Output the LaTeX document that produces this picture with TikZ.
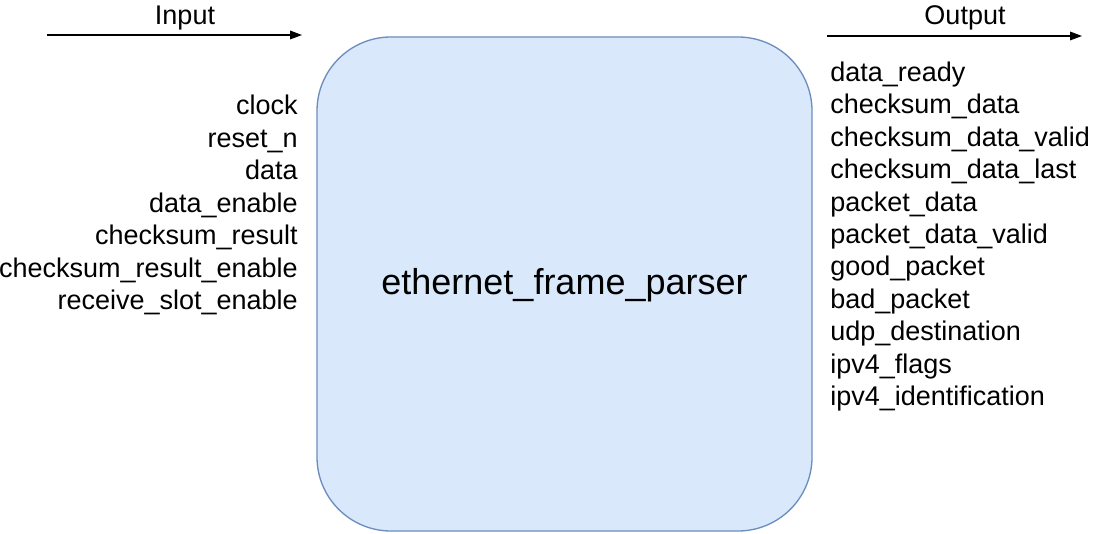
\documentclass[tikz,border=0pt]{standalone}
\usepackage{fontspec}
\setmainfont{Liberation Sans}
\usetikzlibrary{arrows.meta}
\definecolor{boxfill}{HTML}{DAE8FC}
\definecolor{boxdraw}{HTML}{6C8EBF}
\begin{document}
\begin{tikzpicture}[x=0.75pt,y=-0.75pt,
  lbl/.style={inner sep=0pt,anchor=base,font=\fontsize{20.25}{24}\selectfont},
  sig/.style={lbl,anchor=base east},
  osig/.style={lbl,anchor=base west},
  flow/.style={draw=black,line width=0.9pt,-{Triangle[length=9pt,width=6.5pt]}},
  block/.style={draw=boxdraw,fill=boxfill,line width=1pt,rounded corners=55.5pt}]
\useasboundingbox (0,0) rectangle (1095,534);
\path[block] (317,37) rectangle (812,531);
\node[inner sep=0pt,anchor=base,font=\fontsize{27}{32}\selectfont] (title) at (564.5,295) {ethernet\_frame\_parser};
\coordinate (inA) at (47,35);
\coordinate (inB) at (302,35);
\coordinate (outA) at (827,36);
\coordinate (outB) at (1082,36);
\draw[flow] (inA) -- (inB);
\draw[flow] (outA) -- (outB);
\node[lbl] (inlbl) at (185,24.5) {Input};
\node[lbl] (outlbl) at (965,24.5) {Output};
\foreach \t [count=\i from 0] in {clock,reset\_n,data,data\_enable,checksum\_result,checksum\_result\_enable,receive\_slot\_enable}
  \node[sig] (in\i) at (298,115+32.5*\i) {\t};
\foreach \t [count=\i from 0] in {data\_ready,checksum\_data,checksum\_data\_valid,checksum\_data\_last,packet\_data,packet\_data\_valid,good\_packet,bad\_packet,udp\_destination,ipv4\_flags,ipv4\_identification}
  \node[osig] (out\i) at (830,81.5+32.4*\i) {\t};
\end{tikzpicture}
\end{document}
